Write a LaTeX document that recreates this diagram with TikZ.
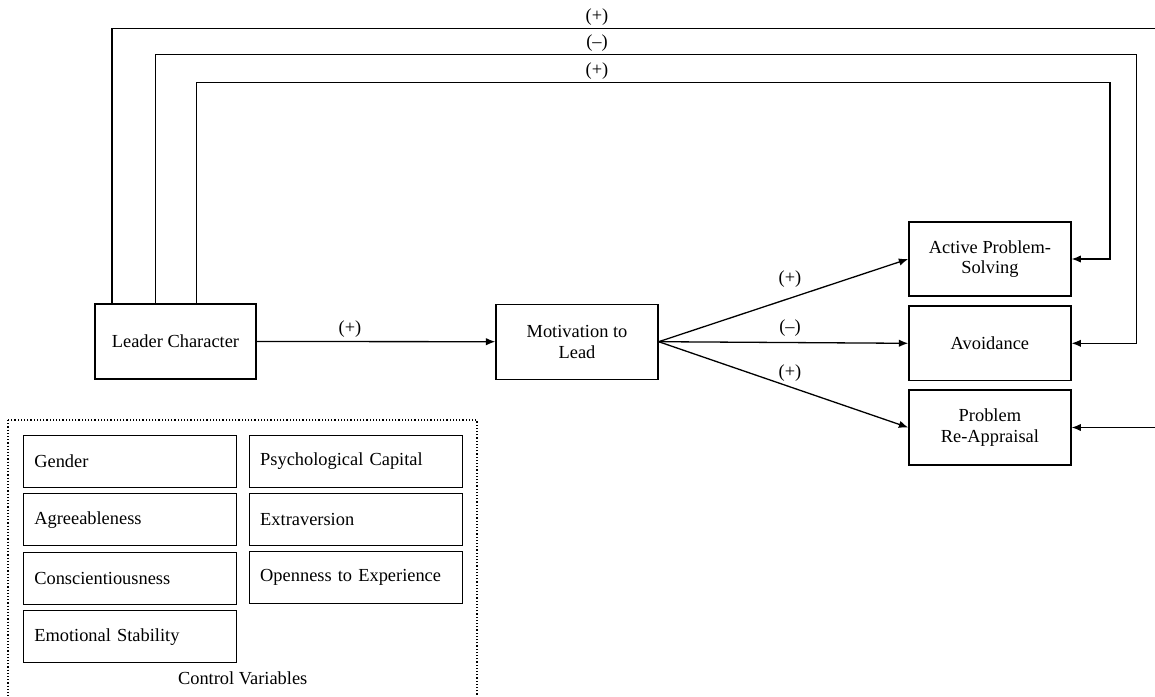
\documentclass[tikz,border=0pt]{standalone}
\usepackage{fontspec}
\setmainfont{Liberation Serif}
\usetikzlibrary{arrows.meta,calc}
\begin{document}
\begin{tikzpicture}[x=0.5pt,y=-0.5pt,
  font=\fontsize{9.2pt}{10.3pt}\selectfont,
  box/.style={draw,line width=0.65pt,align=center,inner sep=0pt},
  ctrl/.style={draw,line width=0.65pt,minimum width=106.7pt,minimum height=26pt,
               text width=95.7pt,inner xsep=5.5pt,inner ysep=0pt,align=left},
  link/.style={line width=0.65pt,-{Latex[length=4.7pt,width=3.7pt]}},
  sign/.style={inner sep=0pt}]
\useasboundingbox (0,0) rectangle (1155,696);
\clip (0,0) rectangle (1155,696);

% main model
\node[box,minimum width=80.5pt,minimum height=37.5pt] (LC)  at (175.5,341.5) {Leader Character};
\node[box,minimum width=81pt,minimum height=37.5pt]   (MTL) at (577,341.7) {Motivation to\\Lead};
\node[box,minimum width=81pt,minimum height=37pt]     (APS) at (989.9,259) {Active Problem-\\Solving};
\node[box,minimum width=81pt,minimum height=37.3pt]   (AV)  at (989.9,343.3) {Avoidance};
\node[box,minimum width=81pt,minimum height=37.5pt]   (PR)  at (989.9,427.5) {Problem\\Re-Appraisal};

% direct effects of leader character
\draw[link] ($(LC.north west)+(17.7,0)$) |- (1175,28.3) |- (PR.east);
\draw[link] ($(LC.north west)+(61,0)$) |- (1136.7,54.3) |- (AV.east);
\draw[link] ($(LC.north west)+(102.3,0)$) |- (1110,82.7) |- (APS.east);
\node[sign] (s1) at (597,17) {(+)};
\node[sign] (s2) at (597,43) {(–)};
\node[sign] (s3) at (597,71) {(+)};

% mediated paths
\draw[link] (LC.east) -- (MTL.west);
\node[sign] (s4) at (350,329) {(+)};
\draw[link] (MTL.east) -- (APS.west);
\draw[link] (MTL.east) -- (AV.west);
\draw[link] (MTL.east) -- (PR.west);
\node[sign] (s5) at (790,279.3) {(+)};
\node[sign] (s6) at (790,328.3) {(–)};
\node[sign] (s7) at (790,373.3) {(+)};

% control variables
\draw[densely dotted,line width=0.6pt] (8,420) rectangle (477,710);
\node[ctrl] (c1) at (130,461.2) {Gender};
\node[ctrl] (c2) at (130,519.7) {Agreeableness};
\node[ctrl] (c3) at (130,578.3) {Conscientiousness};
\node[ctrl] (c4) at (130,636.7) {Emotional Stability};
\node[ctrl] (c5) at (355.9,461.2) {Psychological Capital};
\node[ctrl] (c6) at (355.9,519.7) {Extraversion};
\node[ctrl] (c7) at (355.9,577.8) {Openness to Experience};
\node[sign] (cv) at (242.7,678) {Control Variables};
\end{tikzpicture}
\end{document}
